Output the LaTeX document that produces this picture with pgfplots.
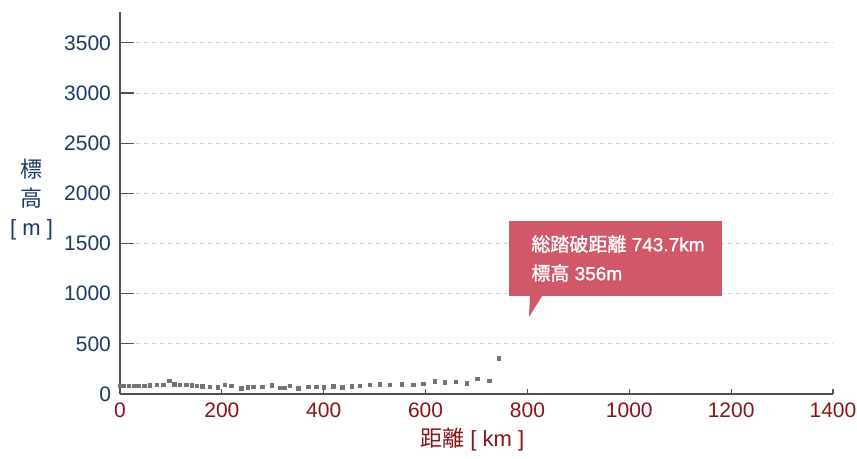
\documentclass[border=0pt]{standalone}
\usepackage{fontspec}
\usepackage{pgfplots}
\pgfplotsset{compat=1.18}
\setmainfont{Liberation Sans}
\newfontfamily\cjk{Noto Sans CJK JP}
\newfontfamily\cjkb[FakeBold=1.2]{Noto Sans CJK JP}
\newfontfamily\latb[FakeBold=1.2]{Liberation Sans}
\definecolor{navy}{RGB}{28,58,96}
\definecolor{dred}{RGB}{135,20,25}
\definecolor{callout}{RGB}{209,88,105}
\definecolor{pt}{RGB}{115,115,115}
\definecolor{axgray}{RGB}{80,80,80}
\begin{document}
\begin{tikzpicture}
\begin{axis}[
  at={(0,0)}, anchor=south west,
  scale only axis, width=356.5pt, height=191pt,
  xmin=0, xmax=1400, ymin=0, ymax=3808,
  axis x line*=bottom, axis y line*=left,
  axis line style={-, draw=axgray, line width=0.7pt},
  xtick={0,200,...,1400}, ytick={0,500,...,3500},
  tick align=inside,
  xtick style={draw=axgray, line width=0.6pt, /pgfplots/major tick length=2.5pt},
  ytick style={draw=axgray, line width=0.6pt, /pgfplots/major tick length=7pt},
  ymajorgrids,
  grid style={draw=gray!35, dash pattern=on 2pt off 2pt, line width=0.5pt},
  /pgf/number format/assume math mode=true,
  /pgf/number format/1000 sep={},
  xticklabel style={font=\fontsize{10.5}{12}\selectfont, text=dred, yshift=-1pt},
  yticklabel style={font=\fontsize{10.5}{12}\selectfont, text=navy, xshift=-1pt},
  xlabel={{\cjk 距離} [ km ]},
  xlabel style={at={(axis description cs:0.494,0)}, anchor=center, yshift=-23pt,
    font=\fontsize{11}{13}\selectfont, text=dred},
  ylabel={{\cjk 標}\\{\cjk 高}\\{[ m ]}},
  ylabel style={rotate=-90, at={(axis description cs:-0.124,0.51)}, anchor=center,
    align=center, font=\fontsize{11}{14.5}\selectfont, text=navy},
  clip=false,
]
\addplot[only marks, mark=square*, mark size=0.85pt, color=pt] coordinates {
(0,83) (8,83) (18,83) (28,83) (37,83) (48,83) (59,86) (72,90) (85,93) (97,133)
(107,96) (118,93) (130,90) (141,86) (151,83) (162,76) (177,73) (192,66) (206,90) (219,83)
(238,57) (251,66) (262,73) (280,73) (298,86) (315,63) (324,63) (334,83) (350,57) (370,70)
(386,73) (400,66) (419,76) (437,66) (455,76) (471,83) (491,90) (510,96) (530,93) (554,96)
(576,93) (596,100) (618,126) (638,116) (660,120) (681,106) (702,153) (725,130) (744,356)
};
\fill[callout] (axis cs:764,1725) rectangle (axis cs:1182,977);
\fill[callout] (axis cs:805,978) -- (axis cs:829,978) -- (axis cs:803,768) -- cycle;
\node[anchor=west, text=white, inner sep=0pt, font=\fontsize{9.5}{11}\selectfont]
  at (axis cs:807,1495) {{\cjkb 総踏破距離} {\latb 743.7km}};
\node[anchor=west, text=white, inner sep=0pt, font=\fontsize{9.5}{11}\selectfont]
  at (axis cs:807,1206) {{\cjkb 標高} {\latb 356m}};
\end{axis}
\pgfresetboundingbox
\useasboundingbox (-60pt,-32.5pt) rectangle (368.5pt,197pt);
\end{tikzpicture}
\end{document}
